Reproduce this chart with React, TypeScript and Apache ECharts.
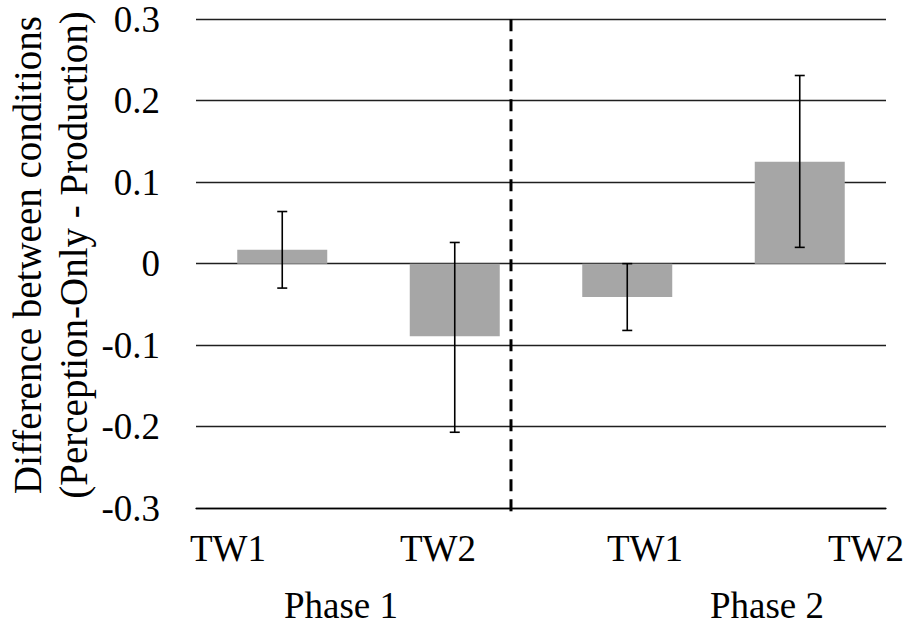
import React, { useEffect, useRef } from "react";
import * as echarts from "echarts";

const categories = ["TW1", "TW2", "TW1", "TW2"];
const means = [0.017, -0.089, -0.041, 0.125];
const errLow = [-0.03, -0.207, -0.082, 0.02];
const errHigh = [0.064, 0.026, 0.0, 0.231];
const phaseLabels = ["Phase 1", "Phase 2"];
const yMin = -0.3;
const yMax = 0.3;
const yStep = 0.1;
const dividerAt = 1.826; // position on a 0..4 category scale
const yTitle = ["Difference between conditions", "(Perception-Only - Production)"];

// layout only
const FONT = "Liberation Serif";
const FS = 37;
const tickLabelX = [228, 438, 645, 866];
const tickLabelY = 548;
const phaseX = [341, 767];
const phaseY = 605;

export default function App() {
  const ref = useRef<HTMLDivElement>(null);
  useEffect(() => {
    if (!ref.current) return;
    const chart = echarts.init(ref.current, null, { renderer: "svg" });
    const textEl = (t: string, x: number, y: number, fs: number, extra: any = {}) => ({
      type: "text",
      x,
      y,
      style: {
        text: t,
        font: `${fs}px "${FONT}"`,
        fontFamily: FONT,
        fontSize: fs,
        fill: "#000",
        align: "center",
        textAlign: "center",
        verticalAlign: "middle",
        textVerticalAlign: "middle",
        ...extra,
      },
    });
    const graphics: any[] = [];
    categories.forEach((c, i) => graphics.push(textEl(c, tickLabelX[i], tickLabelY, FS)));
    phaseLabels.forEach((p, i) => graphics.push(textEl(p, phaseX[i], phaseY, FS)));
    graphics.push({
      ...textEl(yTitle.join("\n"), 50, 255, 39, { lineHeight: 46 }),
      rotation: Math.PI / 2,
    });

    const option: any = {
      animation: false,
      textStyle: { fontFamily: FONT },
      grid: { left: 196, right: 20, top: 19.3, bottom: 120, containLabel: false },
      xAxis: [
        {
          type: "category",
          data: categories,
          axisLine: { show: true, onZero: false, lineStyle: { color: "#000", width: 1.3 } },
          axisTick: { show: false },
          axisLabel: { show: false },
          splitLine: { show: false },
        },
        { type: "value", min: 0, max: 4, show: false },
      ],
      yAxis: {
        type: "value",
        min: yMin,
        max: yMax,
        interval: yStep,
        axisLine: { show: false },
        axisTick: { show: false },
        axisLabel: {
          margin: 36,
          fontFamily: FONT,
          fontSize: FS,
          color: "#000",
          formatter: (v: number) => (Math.abs(v) < 1e-9 ? "0" : v.toFixed(1)),
        },
        splitLine: { show: true, lineStyle: { color: "#1f1f1f", width: 1.3 } },
      },
      series: [
        {
          type: "bar",
          data: means,
          barWidth: 90,
          itemStyle: { color: "#a6a6a6" },
          z: 2,
        },
        {
          type: "custom",
          data: categories.map((_, i) => [i, errLow[i], errHigh[i]]),
          encode: { x: 0, y: [1, 2] },
          z: 4,
          renderItem: (params: any, api: any) => {
            const x = api.value(0);
            const lo = api.coord([x, api.value(1)]);
            const hi = api.coord([x, api.value(2)]);
            const cap = 5;
            const st = { stroke: "#000", lineWidth: 1.6 };
            return {
              type: "group",
              children: [
                { type: "line", shape: { x1: lo[0], y1: lo[1], x2: hi[0], y2: hi[1] }, style: st },
                { type: "line", shape: { x1: hi[0] - cap, y1: hi[1], x2: hi[0] + cap, y2: hi[1] }, style: st },
                { type: "line", shape: { x1: lo[0] - cap, y1: lo[1], x2: lo[0] + cap, y2: lo[1] }, style: st },
              ],
            };
          },
        },
        {
          type: "line",
          xAxisIndex: 1,
          data: [
            [dividerAt, yMax],
            [dividerAt, yMin - 0.01],
          ],
          symbol: "none",
          clip: false,
          z: 5,
          lineStyle: { color: "#000", width: 3, type: [12, 8] },
        },
      ],
      graphic: graphics,
    };
    chart.setOption(option);
    return () => chart.dispose();
  }, []);
  return (
    <div
      ref={ref}
      style={{ position: "absolute", left: 0, top: 0, width: 906, height: 628, background: "#fff" }}
    />
  );
}
